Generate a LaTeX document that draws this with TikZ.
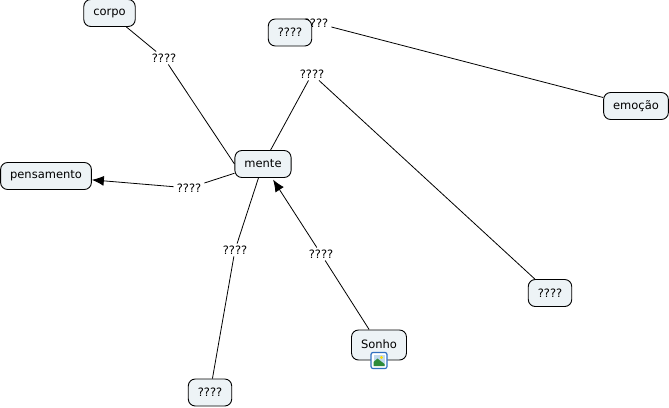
\documentclass[tikz,border=0pt]{standalone}
\usepackage{fontspec}
\setmainfont{DejaVu Sans}
\usetikzlibrary{arrows.meta}
\definecolor{conceptfill}{HTML}{EDF3F6}
\definecolor{icongreen}{HTML}{2E8B3A}
\definecolor{iconsky}{HTML}{BFD9EE}
\definecolor{iconblue}{HTML}{2F6FC0}
\tikzset{
  concept/.style={draw,fill=conceptfill,rounded corners=7pt,font=\fontsize{11.5pt}{13pt}\selectfont,inner xsep=9.5pt,inner ysep=0pt,minimum height=27pt,line width=.9pt},
  linklabel/.style={fill=white,font=\fontsize{11.5pt}{13pt}\selectfont,inner xsep=3pt,inner ysep=2pt},
  link/.style={line width=.8pt}
}
\begin{document}
\begin{tikzpicture}[>={Latex[length=12pt,width=10pt]},x=1pt,y=-1pt]
\useasboundingbox (0,0) rectangle (669,407);
\node[linklabel] (l1) at (164,58) {????};
\node[linklabel] (l2) at (316,23) {????};
\node[linklabel] (l3) at (312,74) {????};
\node[linklabel] (l4) at (189,188) {????};
\node[linklabel] (l5) at (235,250) {????};
\node[linklabel] (l6) at (321,254) {????};

\node[concept] (corpo) at (109.5,13) {corpo};
\node[concept] (emocao) at (636,106) {emoção};
\node[concept] (mente) at (263,164) {mente};
\node[concept] (pensamento) at (46,176) {pensamento};
\node[concept] (q1) at (290,32.5) {????};
\node[concept] (q2) at (550,293) {????};
\node[concept] (q3) at (210,392.5) {????};
\node[concept,minimum height=30pt] (sonho) at (379,345) {\raisebox{2pt}{Sonho}};

\draw[link] (corpo) -- (l1);
\draw[link] (l1) -- (mente.west);
\draw[link] (l2) -- (emocao);
\draw[link] (mente) -- (l3);
\draw[link] (l3) -- (q2);
\draw[link] (mente) -- (l4);
\draw[link,->] (l4) -- (pensamento);
\draw[link] (mente) -- (l5);
\draw[link] (l5) -- (q3);
\draw[link] (sonho) -- (l6);
\draw[link,->,shorten >=2pt] (l6) -- (mente);

% image icon on Sonho
\node[draw=iconblue,fill=white,rounded corners=2pt,line width=1.2pt,minimum size=16pt,inner sep=0pt] (icon) at (379,360.5) {};
\fill[iconsky] (373.5,355) rectangle (384.5,366);
\fill[yellow!80!orange] (381.5,357.5) circle (1.6);
\fill[icongreen] (373.5,366) -- (373.5,362) -- (377.5,358.5) -- (384.5,364) -- (384.5,366) -- cycle;
\end{tikzpicture}
\end{document}
